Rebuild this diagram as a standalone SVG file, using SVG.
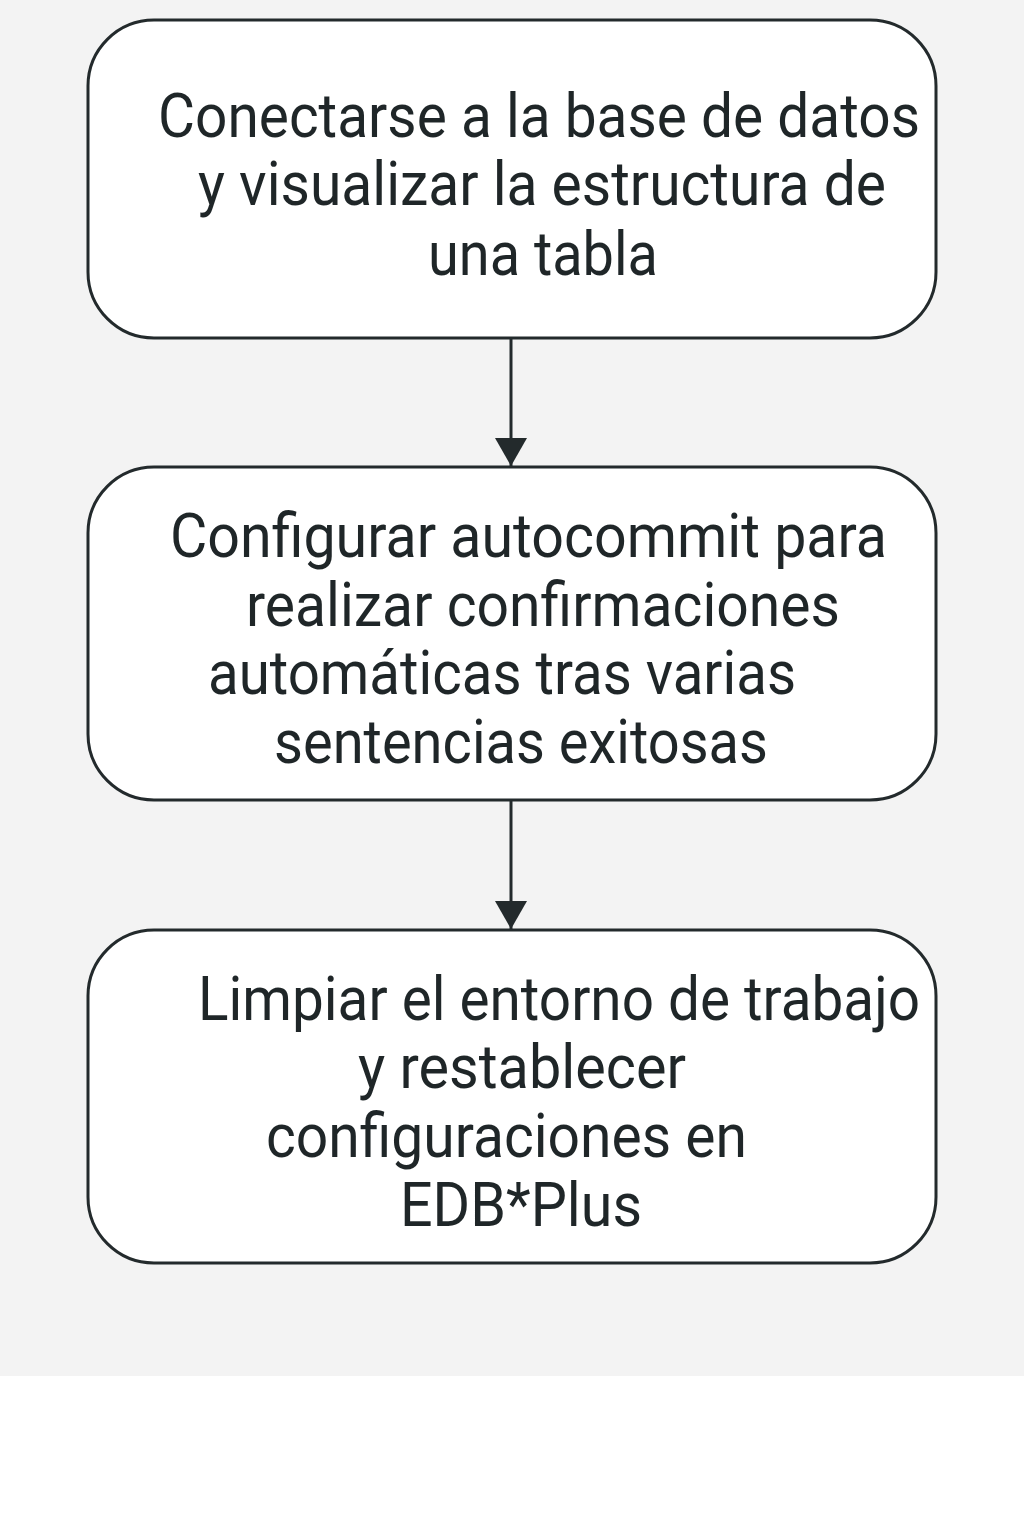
<svg xmlns="http://www.w3.org/2000/svg" width="1024" height="1536" viewBox="0 0 1024 1536">
  <style>
    .box { fill: #ffffff; stroke: #232a2c; stroke-width: 3; }
    .lbl { font-family: Roboto, "Liberation Sans", sans-serif; font-size: 62px; fill: #1f2628; }
    .conn { stroke: #232a2c; stroke-width: 3; fill: none; }
  </style>
  <defs>
    <marker id="arrow" markerUnits="userSpaceOnUse" markerWidth="28" markerHeight="32" refX="28" refY="16" orient="auto" viewBox="0 0 28 32">
      <path d="M0,0 L28,16 L0,32 Z" fill="#232a2c"/>
    </marker>
  </defs>
  <rect x="0" y="0" width="1024" height="1376" fill="#f3f3f3"/>
  <rect x="0" y="1376" width="1024" height="160" fill="#ffffff"/>

  <g id="connectors">
    <line class="conn" x1="511" y1="338" x2="511" y2="466" marker-end="url(#arrow)"/>
    <line class="conn" x1="511" y1="800" x2="511" y2="929" marker-end="url(#arrow)"/>
  </g>

  <g id="node1">
    <rect class="box" x="88" y="20" width="848" height="318" rx="66" ry="66"/>
    <text class="lbl" x="158" y="137" textLength="762" lengthAdjust="spacingAndGlyphs">Conectarse a la base de datos</text>
    <text class="lbl" x="198" y="205" textLength="688" lengthAdjust="spacingAndGlyphs">y visualizar la estructura de</text>
    <text class="lbl" x="428" y="275" textLength="230" lengthAdjust="spacingAndGlyphs">una tabla</text>
  </g>

  <g id="node2">
    <rect class="box" x="88" y="467" width="848" height="333" rx="66" ry="66"/>
    <text class="lbl" x="170" y="557" textLength="717" lengthAdjust="spacingAndGlyphs">Configurar autocommit para</text>
    <text class="lbl" x="246" y="626" textLength="594" lengthAdjust="spacingAndGlyphs">realizar confirmaciones</text>
    <text class="lbl" x="208" y="694" textLength="588" lengthAdjust="spacingAndGlyphs">automáticas tras varias</text>
    <text class="lbl" x="274" y="763" textLength="494" lengthAdjust="spacingAndGlyphs">sentencias exitosas</text>
  </g>

  <g id="node3">
    <rect class="box" x="88" y="930" width="848" height="333" rx="66" ry="66"/>
    <text class="lbl" x="198" y="1020" textLength="722" lengthAdjust="spacingAndGlyphs">Limpiar el entorno de trabajo</text>
    <text class="lbl" x="358" y="1088" textLength="328" lengthAdjust="spacingAndGlyphs">y restablecer</text>
    <text class="lbl" x="266" y="1157" textLength="481" lengthAdjust="spacingAndGlyphs">configuraciones en</text>
    <text class="lbl" x="400" y="1226" textLength="242" lengthAdjust="spacingAndGlyphs">EDB*Plus</text>
  </g>
</svg>
